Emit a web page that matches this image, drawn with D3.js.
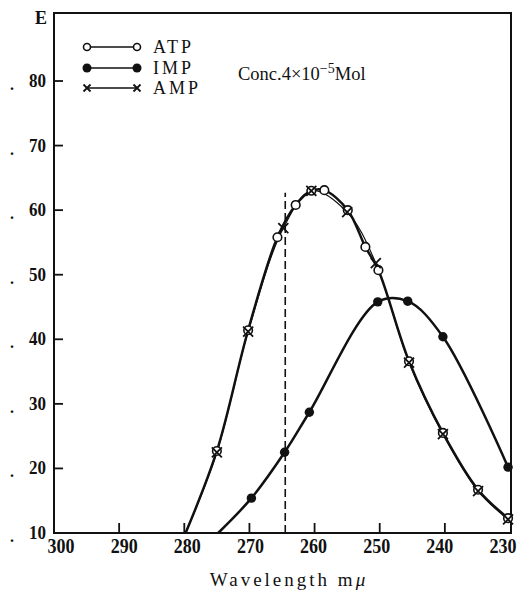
<!DOCTYPE html>
<html>
<head>
<meta charset="utf-8">
<script src="https://cdn.jsdelivr.net/npm/d3@7"></script>
<style>
  body { margin: 0; background: #fff; }
  svg { display: block; }
  text { font-family: "Liberation Serif", "DejaVu Serif", serif; fill: #111; }
</style>
</head>
<body>
<svg width="521" height="595"></svg>
<script>
"use strict";

// ATP (open circles)
const atpWave = [275, 270.2, 265.7, 262.9, 260.5, 258.5, 254.9, 252.2, 250.2, 245.5, 240.3, 234.9, 230.3];
const atpE    = [22.7, 41.4, 55.8, 60.8, 63.0, 63.1, 60.0, 54.3, 50.7, 36.6, 25.5, 16.7, 12.3];
// AMP (crosses)
const ampWave = [275, 270.2, 264.8, 260.5, 255.0, 250.6, 245.5, 240.3, 234.9, 230.3];
const ampE    = [22.5, 41.2, 57.2, 63.0, 59.7, 51.8, 36.4, 25.3, 16.5, 12.1];
// IMP (filled circles)
const impWave = [269.7, 264.6, 260.8, 250.3, 245.7, 240.3, 230.3];
const impE    = [15.4, 22.5, 28.7, 45.8, 45.9, 40.4, 20.2];

// where the drawn curves leave the bottom axis
const atpStart = [279.8, 10];
const impStart = [274.8, 10];

// dashed marker line
const dashWave = 264.5;
const dashTop = 62.7;

const xTicks = [300, 290, 280, 270, 260, 250, 240, 230];
const yTicks = [10, 20, 30, 40, 50, 60, 70, 80];

const svg = d3.select("svg");

const x = d3.scaleLinear().domain([300, 230]).range([54, 510]);
const y = d3.scaleLinear().domain([10, 80]).range([533, 81]);
// printed labels sit slightly inside the end ticks
const xLab = d3.scaleLinear().domain([300, 230]).range([61, 503]);

const frameL = 54, frameR = 511, frameT = 13, frameB = 533;

// frame
svg.append("path")
    .attr("d", `M${frameL},${frameT}H${frameR}V${frameB}H${frameL}Z`)
    .attr("fill", "none")
    .attr("stroke", "#111")
    .attr("stroke-width", 2);

// ticks (inward)
svg.selectAll(".xtick")
    .data(xTicks.slice(1, -1))
    .enter().append("line")
    .attr("x1", d => x(d)).attr("x2", d => x(d))
    .attr("y1", frameB).attr("y2", frameB - 10)
    .attr("stroke", "#111").attr("stroke-width", 1.8);

svg.selectAll(".ytick")
    .data(yTicks.slice(1))
    .enter().append("line")
    .attr("x1", frameL).attr("x2", frameL + 9)
    .attr("y1", d => y(d)).attr("y2", d => y(d))
    .attr("stroke", "#111").attr("stroke-width", 1.8);

// tick labels
svg.selectAll(".xlab")
    .data(xTicks)
    .enter().append("text")
    .attr("x", d => xLab(d))
    .attr("y", 553)
    .attr("text-anchor", "middle")
    .attr("font-size", 22)
    .attr("font-weight", "bold")
    .attr("textLength", 27)
    .attr("lengthAdjust", "spacingAndGlyphs")
    .text(d => d);

svg.selectAll(".ylab")
    .data(yTicks)
    .enter().append("text")
    .attr("x", 46)
    .attr("y", d => y(d) + 6)
    .attr("text-anchor", "end")
    .attr("font-size", 18)
    .attr("font-weight", "bold")
    .attr("textLength", 17)
    .attr("lengthAdjust", "spacingAndGlyphs")
    .text(d => d);

svg.selectAll(".ydot")
    .data(yTicks)
    .enter().append("text")
    .attr("x", 10)
    .attr("y", d => y(d) + 9)
    .attr("font-size", 16)
    .attr("font-weight", "bold")
    .text(".");

svg.append("text")
    .attr("x", 41).attr("y", 24)
    .attr("text-anchor", "middle")
    .attr("font-size", 18)
    .attr("font-weight", "bold")
    .text("E");

const title = svg.append("text")
    .attr("x", 289).attr("y", 586)
    .attr("text-anchor", "middle")
    .attr("font-size", 19)
    .attr("letter-spacing", 3);
title.append("tspan").text("Wavelength m");
title.append("tspan").attr("font-style", "italic").text("μ");

// dashed line
svg.append("line")
    .attr("x1", x(dashWave)).attr("x2", x(dashWave))
    .attr("y1", y(10)).attr("y2", y(dashTop))
    .attr("stroke", "#111")
    .attr("stroke-width", 1.6)
    .attr("stroke-dasharray", "8,4");

// curves
const line = d3.line()
    .x(d => x(d[0]))
    .y(d => y(d[1]))
    .curve(d3.curveCatmullRom.alpha(0.5));

const atpPts = atpWave.map((w, i) => [w, atpE[i]]);
const ampPts = ampWave.map((w, i) => [w, ampE[i]]);
const impPts = impWave.map((w, i) => [w, impE[i]]);

svg.append("path")
    .attr("d", line([atpStart, ...atpPts]))
    .attr("fill", "none").attr("stroke", "#111").attr("stroke-width", 2.5);
svg.append("path")
    .attr("d", line([atpStart, ...ampPts]))
    .attr("fill", "none").attr("stroke", "#111").attr("stroke-width", 1.2);
svg.append("path")
    .attr("d", line([impStart, ...impPts]))
    .attr("fill", "none").attr("stroke", "#111").attr("stroke-width", 2.5);

// markers
function cross(sel, cx, cy, r) {
    sel.append("path")
        .attr("d", `M${cx - r},${cy - r}L${cx + r},${cy + r}M${cx - r},${cy + r}L${cx + r},${cy - r}`)
        .attr("stroke", "#111").attr("stroke-width", 1.8);
}

svg.selectAll(".atp")
    .data(atpPts)
    .enter().append("circle")
    .attr("cx", d => x(d[0])).attr("cy", d => y(d[1]))
    .attr("r", 4.3)
    .attr("fill", "#fff").attr("stroke", "#111").attr("stroke-width", 1.6);

ampPts.forEach(d => cross(svg, x(d[0]), y(d[1]), 5));

svg.selectAll(".imp")
    .data(impPts)
    .enter().append("circle")
    .attr("cx", d => x(d[0])).attr("cy", d => y(d[1]))
    .attr("r", 4.7)
    .attr("fill", "#111");

// legend
const legend = [
    { name: "ATP", type: "open", y: 47 },
    { name: "IMP", type: "filled", y: 68 },
    { name: "AMP", type: "cross", y: 88 }
];
legend.forEach(item => {
    svg.append("line")
        .attr("x1", 87).attr("x2", 137)
        .attr("y1", item.y).attr("y2", item.y)
        .attr("stroke", "#111").attr("stroke-width", 1.5);
    [87, 137].forEach(cx => {
        if (item.type === "open") {
            svg.append("circle").attr("cx", cx).attr("cy", item.y).attr("r", 3.5)
                .attr("fill", "#fff").attr("stroke", "#111").attr("stroke-width", 1.6);
        } else if (item.type === "filled") {
            svg.append("circle").attr("cx", cx).attr("cy", item.y).attr("r", 4.5)
                .attr("fill", "#111");
        } else {
            cross(svg, cx, item.y, 3.5);
        }
    });
    svg.append("text")
        .attr("x", 153).attr("y", item.y + 6)
        .attr("font-size", 18)
        .attr("letter-spacing", 3)
        .text(item.name);
});

const conc = svg.append("text")
    .attr("x", 238).attr("y", 80)
    .attr("font-size", 18.5);
conc.append("tspan").text("Conc.4×10");
conc.append("tspan").attr("dy", -7).attr("font-size", 14).text("−5");
conc.append("tspan").attr("dy", 7).text("Mol");
</script>
</body>
</html>
